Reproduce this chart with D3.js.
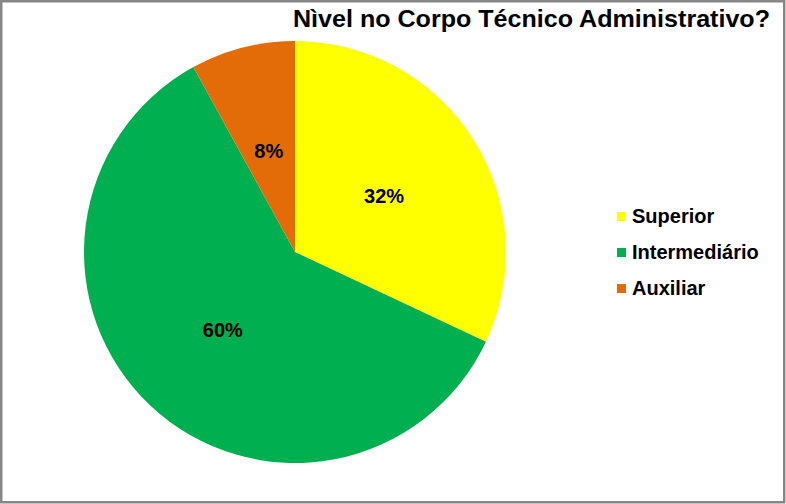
<!DOCTYPE html>
<html><head><meta charset="utf-8">
<script src="https://cdn.jsdelivr.net/npm/d3@7"></script>
<style>body{margin:0;background:#fff}svg{display:block}</style>
</head><body>
<script>
const categories = ["Superior", "Intermediário", "Auxiliar"];
const values = [32, 60, 8];
const colors = ["#FFFF00", "#00B050", "#E36C09"];
const title = "Nìvel no Corpo Técnico Administrativo?";

const W = 786, H = 504;
const font = "Liberation Sans, Arial, sans-serif";
const svg = d3.select("body").append("svg").attr("width", W).attr("height", H);
svg.append("rect").attr("x", 1.25).attr("y", 1.25).attr("width", W - 3).attr("height", H - 3)
  .attr("fill", "#fff").attr("stroke", "#878787").attr("stroke-width", 2.5);

svg.append("text").attr("x", 770).attr("y", 27).attr("text-anchor", "end")
  .attr("font-family", font).attr("font-weight", "bold")
  .attr("font-size", 24).attr("textLength", 477).attr("lengthAdjust", "spacingAndGlyphs")
  .attr("fill", "#000").text(title);

const cx = 295, cy = 252, r = 211;
const pie = d3.pie().sort(null).value(d => d)(values);
const arc = d3.arc().innerRadius(0).outerRadius(r);
const g = svg.append("g").attr("transform", `translate(${cx},${cy})`);
g.selectAll("path").data(pie).join("path").attr("d", arc).attr("fill", (d, i) => colors[i]);
const total = d3.sum(values);
g.selectAll("text").data(pie).join("text")
  .attr("transform", d => { const c = arc.centroid(d); return `translate(${c[0]},${c[1] + 8})`; })
  .attr("text-anchor", "middle")
  .attr("font-family", font).attr("font-weight", "bold")
  .attr("font-size", 20).attr("fill", "#000")
  .text(d => Math.round(d.data / total * 100) + "%");

const lg = svg.append("g").attr("transform", "translate(617,212)");
categories.forEach((c, i) => {
  const row = lg.append("g").attr("transform", `translate(0,${i * 36})`);
  row.append("rect").attr("width", 9).attr("height", 9).attr("fill", colors[i]);
  row.append("text").attr("x", 15).attr("y", 11)
    .attr("font-family", font).attr("font-weight", "bold")
    .attr("font-size", 20).attr("fill", "#000").text(c);
});
</script>
</body></html>
